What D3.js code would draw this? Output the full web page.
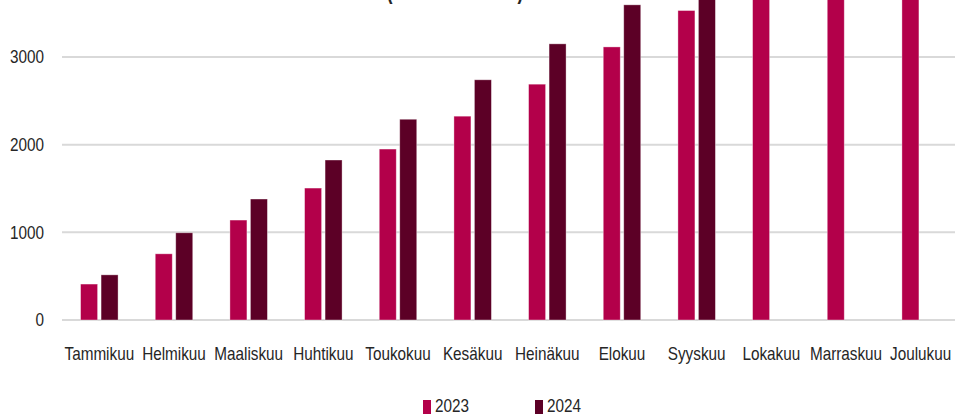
<!DOCTYPE html>
<html>
<head>
<meta charset="utf-8">
<script src="https://cdn.jsdelivr.net/npm/d3@7"></script>
<style>
  html, body { margin: 0; padding: 0; background: #fff; overflow: hidden; }
  svg { display: block; }
  text { font-family: "Liberation Sans", Arial, sans-serif; fill: #262626; }
</style>
</head>
<body>
<svg id="chart" width="955" height="415"></svg>
<script>
// Data (values above the visible area are estimates)
const months = ["Tammikuu","Helmikuu","Maaliskuu","Huhtikuu","Toukokuu","Kesäkuu","Heinäkuu","Elokuu","Syyskuu","Lokakuu","Marraskuu","Joulukuu"];
const series = ["2023","2024"];
const values2023 = [410, 755, 1140, 1505, 1950, 2325, 2690, 3115, 3530, 3950, 4350, 4750];
const values2024 = [515, 995, 1380, 1825, 2290, 2740, 3150, 3595, 4000, null, null, null];
const yTicks = [0, 1000, 2000, 3000];
const colors = ["#b3004a", "#5c0026"];
const titleText = "(kumulatiivinen)";

const sx = 0.85; // horizontal squeeze of the narrow reference font
const svg = d3.select("#chart");
const left = 62, right = 958, bottom = 320, top3000 = 57;

const x0 = d3.scaleBand().domain(months).range([left, right]).paddingInner(0.498).paddingOuter(0.249);
const x1 = d3.scaleBand().domain(series).range([0, x0.bandwidth()]).paddingInner(0.17);
const y = d3.scaleLinear().domain([0, 3000]).range([bottom, top3000]);
const color = d3.scaleOrdinal().domain(series).range(colors);

// title (mostly above the visible area, as in the reference)
svg.append("text")
  .attr("x", 455).attr("y", -1)
  .attr("text-anchor", "middle")
  .style("font-size", "25px").style("font-weight", "bold")
  .attr("textLength", 137).attr("lengthAdjust", "spacingAndGlyphs")
  .text(titleText);

// gridlines
svg.append("g").selectAll("line").data(yTicks).join("line")
  .attr("x1", left).attr("x2", right)
  .attr("y1", d => y(d)).attr("y2", d => y(d))
  .attr("stroke", "#d9d9d9").attr("stroke-width", 2);

// y axis labels
const yAxis = d3.axisLeft(y).tickValues(yTicks).tickSize(0).tickFormat(d3.format("d"));
const gy = svg.append("g").attr("transform", `translate(${left},0)`).call(yAxis);
gy.select(".domain").remove();
gy.selectAll("text")
  .style("font-size", "18px").style("font-family", null).attr("fill", "#262626")
  .attr("x", -18 / sx).attr("transform", `scale(${sx},1)`);

// bars
const rows = months.map((m, i) => ({ month: m, vals: [
  { key: "2023", v: values2023[i] }, { key: "2024", v: values2024[i] } ] }));

svg.append("g").selectAll("g").data(rows).join("g")
  .attr("transform", d => `translate(${x0(d.month)},0)`)
  .selectAll("rect").data(d => d.vals.filter(e => e.v != null)).join("rect")
  .attr("x", d => x1(d.key))
  .attr("width", x1.bandwidth())
  .attr("y", d => y(d.v))
  .attr("height", d => y(0) - y(d.v))
  .attr("fill", d => color(d.key))
  .attr("stroke", "rgba(255,255,255,0.45)").attr("stroke-width", 0.8);

// x axis labels
const xAxis = d3.axisBottom(x0).tickSize(0).tickPadding(27);
const gx = svg.append("g").attr("transform", `translate(0,${bottom})`).call(xAxis);
gx.select(".domain").remove();
gx.selectAll("text")
  .style("font-size", "18px").style("font-family", null).attr("fill", "#262626")
  .attr("transform", `scale(${sx},1)`);

// legend
const legendX = d3.scalePoint().domain(series).range([423, 535]);
const lg = svg.append("g").selectAll("g").data(series).join("g")
  .attr("transform", d => `translate(${legendX(d)},400)`);
lg.append("rect").attr("width", 8).attr("height", 14).attr("fill", d => color(d));
lg.append("text").attr("x", 12 / sx).attr("y", 12).attr("transform", `scale(${sx},1)`)
  .style("font-size", "18px").text(d => d);
</script>
</body>
</html>
